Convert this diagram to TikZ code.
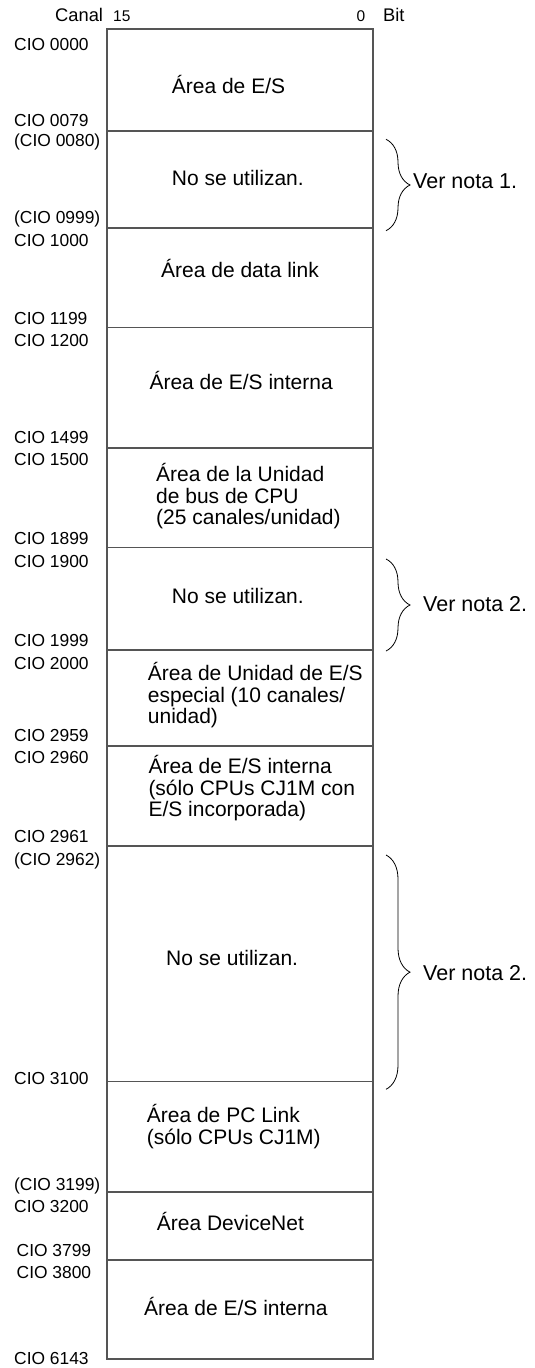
\documentclass[tikz,border=0pt]{standalone}
\usepackage{fontspec}
\setmainfont{Liberation Sans}
\usetikzlibrary{decorations.pathreplacing}
\definecolor{boxline}{HTML}{555555}
\begin{document}
\begin{tikzpicture}[x=1pt,y=-1pt,
  lbl/.style={anchor=base west,inner sep=0pt,font=\fontsize{17.4}{18}\selectfont},
  hdr/.style={anchor=base west,inner sep=0pt,font=\fontsize{18.3}{19}\selectfont},
  bitno/.style={anchor=base west,inner sep=0pt,font=\fontsize{15.5}{16}\selectfont},
  body/.style={anchor=base west,inner sep=0pt,align=left,font=\fontsize{21}{21.5}\selectfont},
  note/.style={anchor=base west,inner sep=0pt,font=\fontsize{21.5}{22}\selectfont},
  region/.style={draw=boxline,line width=1.1pt},
  notebrace/.style={draw=black,line width=0.8pt,decorate,decoration={brace,amplitude=24pt}}]
\useasboundingbox (0,0) rectangle (535,1368);
% header
\node[hdr] (canal) at (55,21.7) {Canal};
\node[bitno] (b15) at (113,21.7) {15};
\node[bitno] (b0) at (356.5,21.7) {0};
\node[hdr] (bit) at (383,21.7) {Bit};
% regions
\foreach \ya/\yb in {29/131,131/228,228/327.7,327.7/448,448/547.7,547.7/650,650/746,746/846,846/1081.7,1081.7/1192,1192/1260,1260/1359}
  \draw[region] (107,\ya) rectangle (373,\yb);
% left labels
\node[lbl] (l1) at (14,50) {CIO 0000};
\node[lbl] (l2) at (14,126) {CIO 0079};
\node[lbl] (l3) at (14,146.7) {(CIO 0080)};
\node[lbl] (l4) at (14,223) {(CIO 0999)};
\node[lbl] (l5) at (14,246.7) {CIO 1000};
\node[lbl] (l6) at (14,324) {CIO 1199};
\node[lbl] (l7) at (14,346.7) {CIO 1200};
\node[lbl] (l8) at (14,443) {CIO 1499};
\node[lbl] (l9) at (14,465) {CIO 1500};
\node[lbl] (l10) at (14,544) {CIO 1899};
\node[lbl] (l11) at (14,567) {CIO 1900};
\node[lbl] (l12) at (14,646.7) {CIO 1999};
\node[lbl] (l13) at (14,669) {CIO 2000};
\node[lbl] (l14) at (14,741.7) {CIO 2959};
\node[lbl] (l15) at (14,763) {CIO 2960};
\node[lbl] (l16) at (14,842) {CIO 2961};
\node[lbl] (l17) at (14,865) {(CIO 2962)};
\node[lbl] (l18) at (14,1084) {CIO 3100};
\node[lbl] (l19) at (14,1190) {(CIO 3199)};
\node[lbl] (l20) at (14,1212.7) {CIO 3200};
\node[lbl] (l21) at (16.5,1256) {CIO 3799};
\node[lbl] (l22) at (16.5,1278) {CIO 3800};
\node[lbl] (l23) at (14,1364) {CIO 6143};
% region texts (base = baseline of last line)
\node[body] (t1) at (171.7,93.3) {Área de E/S};
\node[body] (t2) at (171.7,185) {No se utilizan.};
\node[body] (t3) at (161,277.7) {Área de data link};
\node[body] (t4) at (149.3,389) {Área de E/S interna};
\node[body] (t5) at (156,524.5) {Área de la Unidad\\de bus de CPU\\(25 canales/unidad)};
\node[body] (t6) at (171.7,603.3) {No se utilizan.};
\node[body] (t7) at (147.7,723.5) {Área de Unidad de E/S\\especial (10 canales/\\unidad)};
\node[body] (t8) at (148.3,816.5) {Área de E/S interna\\(sólo CPUs CJ1M con\\E/S incorporada)};
\node[body] (t9) at (166,965) {No se utilizan.};
\node[body] (t10) at (146.7,1144.3) {Área de PC Link\\(sólo CPUs CJ1M)};
\node[body] (t11) at (156.7,1230) {Área DeviceNet};
\node[body] (t12) at (144,1315.7) {Área de E/S interna};
% braces and notes
\coordinate (b1a) at (386,139.3);
\coordinate (b1b) at (386,230.7);
\draw[notebrace] (b1a) -- (b1b);
\node[note] (n1) at (413,188.3) {Ver nota 1.};
\coordinate (b2a) at (386,559);
\coordinate (b2b) at (386,651);
\draw[notebrace] (b2a) -- (b2b);
\node[note] (n2) at (423,611) {Ver nota 2.};
\coordinate (b3a) at (386,855);
\coordinate (b3b) at (386,1089.3);
\draw[notebrace] (b3a) -- (b3b);
\node[note] (n3) at (423,980) {Ver nota 2.};
\end{tikzpicture}
\end{document}
